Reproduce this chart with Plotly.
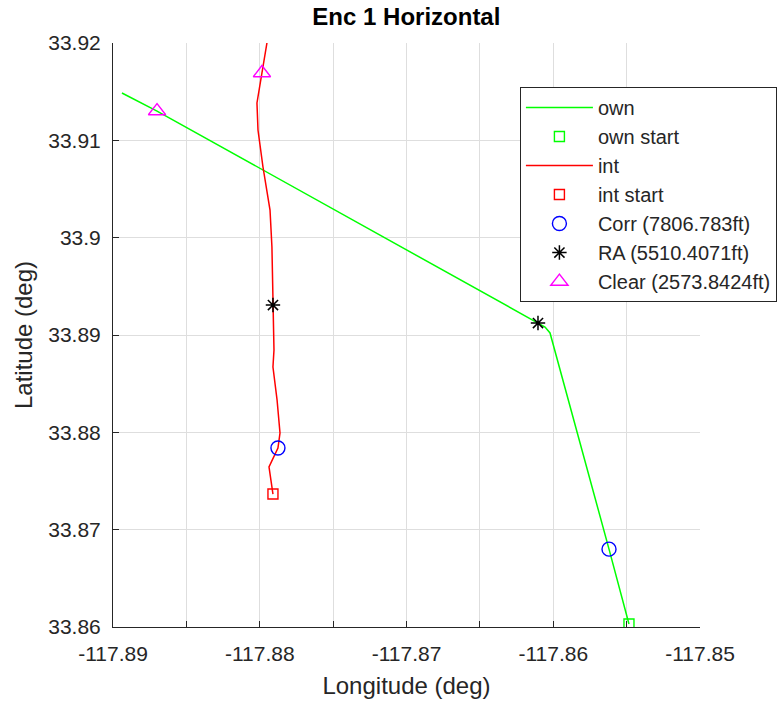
import plotly.graph_objects as go

# ---- data ----
own_lon = [-117.85484, -117.85620, -117.86022, -117.86056, -117.86104, -117.88700, -117.88939]
own_lat = [33.86031, 33.86800, 33.89021, 33.89082, 33.89123, 33.91301, 33.91486]

int_lon = [-117.87910, -117.87937, -117.87876, -117.87862, -117.87882, -117.87910, -117.87903,
           -117.87910, -117.87917, -117.87930, -117.87978, -117.88012, -117.88019, -117.87985, -117.87951]
int_lat = [33.87366, 33.87644, 33.87839, 33.87993, 33.88332, 33.88671, 33.88846,
           33.89308, 33.89904, 33.90284, 33.90726, 33.91106, 33.91384, 33.91692, 33.92000]

own_start = (-117.85484, 33.86031)
int_start = (-117.87910, 33.87366)
corr_lon = [-117.87876, -117.85620]
corr_lat = [33.87839, 33.86800]
ra_lon = [-117.87910, -117.86104]
ra_lat = [33.89308, 33.89123]
clear_lon = [-117.87985, -117.88700]
clear_lat = [33.91692, 33.91301]

x_ticks = [-117.89, -117.885, -117.88, -117.875, -117.87, -117.865, -117.86, -117.855, -117.85]
x_labels = ["-117.89", "", "-117.88", "", "-117.87", "", "-117.86", "", "-117.85"]
y_ticks = [33.86, 33.87, 33.88, 33.89, 33.90, 33.91, 33.92]
y_labels = ["33.86", "33.87", "33.88", "33.89", "33.9", "33.91", "33.92"]

FONT = "Liberation Sans, Arial, Helvetica, sans-serif"
TXT = "#262626"

fig = go.Figure()
fig.add_trace(go.Scatter(x=own_lon, y=own_lat, mode="lines", name="own",
                         line=dict(color="#00ff00", width=1.5)))
fig.add_trace(go.Scatter(x=[own_start[0]], y=[own_start[1]], mode="markers", name="own start",
                         marker=dict(symbol="square-open", size=10, color="#00ff00", line=dict(width=1.4))))
fig.add_trace(go.Scatter(x=int_lon, y=int_lat, mode="lines", name="int",
                         line=dict(color="#ff0000", width=1.5)))
fig.add_trace(go.Scatter(x=[int_start[0]], y=[int_start[1]], mode="markers", name="int start",
                         marker=dict(symbol="square-open", size=10, color="#ff0000", line=dict(width=1.4))))
fig.add_trace(go.Scatter(x=corr_lon, y=corr_lat, mode="markers", name="Corr (7806.783ft)",
                         marker=dict(symbol="circle-open", size=14, color="#0000ff", line=dict(width=1.4))))
fig.add_trace(go.Scatter(x=ra_lon, y=ra_lat, mode="markers", name="RA (5510.4071ft)",
                         marker=dict(symbol="asterisk-open", size=12, color="#000000", line=dict(width=1.5))))
fig.add_trace(go.Scatter(x=clear_lon, y=clear_lat, mode="markers", name="Clear (2573.8424ft)",
                         marker=dict(symbol="triangle-up-open", size=15, color="#ff00ff", line=dict(width=1.4))))

fig.update_layout(
    width=783, height=702,
    margin=dict(l=113, r=83, t=43, b=75, autoexpand=False),
    paper_bgcolor="white", plot_bgcolor="white",
    font=dict(family=FONT, size=21, color=TXT),
    title=dict(text="<b>Enc 1 Horizontal</b>", x=0.519, xanchor="center", y=0.976, yanchor="middle",
               font=dict(size=24, color="#000000")),
    showlegend=True,
    legend=dict(xref="container", yref="container", x=0.664, xanchor="left", y=0.876, yanchor="top",
                bgcolor="white", bordercolor="#262626", borderwidth=1,
                font=dict(size=20, color=TXT), itemwidth=67, tracegroupgap=0),
)
fig.update_xaxes(range=[-117.89, -117.85], tickvals=x_ticks, ticktext=x_labels,
                 showgrid=True, gridcolor="#dedede", gridwidth=1,
                 showline=True, linecolor=TXT, linewidth=1, mirror=False,
                 ticks="inside", ticklen=6, tickcolor=TXT, zeroline=False,
                 ticklabelstandoff=8, automargin=False,
                 title=dict(text="Longitude (deg)", font=dict(size=24, color=TXT), standoff=12),
                 tickfont=dict(size=21, color=TXT))
fig.update_yaxes(range=[33.86, 33.92], tickvals=y_ticks, ticktext=y_labels,
                 showgrid=True, gridcolor="#dedede", gridwidth=1,
                 showline=True, linecolor=TXT, linewidth=1, mirror=False,
                 ticks="inside", ticklen=6, tickcolor=TXT, zeroline=False,
                 ticklabelstandoff=7, automargin=False,
                 title=dict(text="Latitude (deg)", font=dict(size=24, color=TXT), standoff=8),
                 tickfont=dict(size=21, color=TXT))

fig.write_html("out.html")
